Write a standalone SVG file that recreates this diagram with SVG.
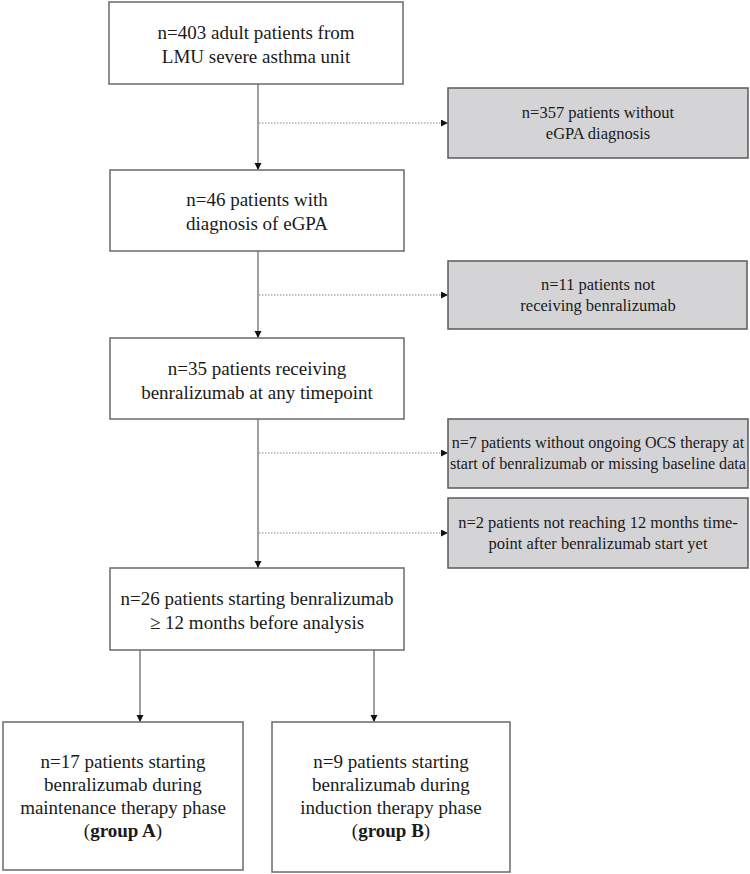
<svg xmlns="http://www.w3.org/2000/svg" width="750" height="874" viewBox="0 0 750 874">
<defs>
<style>
.box{fill:#ffffff;stroke:#6a6a6a;stroke-width:1.5}
.gbox{fill:#d4d4d6;stroke:#5a5a5a;stroke-width:1.5}
.t{font-family:"Liberation Serif","Times New Roman",serif;font-size:19px;fill:#1a1a1a;text-anchor:middle}
.g{font-family:"Liberation Serif","Times New Roman",serif;font-size:16.5px;fill:#1a1a1a;text-anchor:middle}
.gs{font-size:16.1px}
.b{font-weight:bold}
.solid{stroke:#777777;stroke-width:1.4;fill:none}
.dot{stroke:#888888;stroke-width:1;stroke-dasharray:1.5 1.5;fill:none}
</style>
<marker id="ah" viewBox="0 0 10 10" refX="10" refY="5" markerWidth="7" markerHeight="8" markerUnits="userSpaceOnUse" orient="auto">
<path d="M0,0 L10,5 L0,10 z" fill="#111111"/>
</marker>
<marker id="ahs" viewBox="0 0 10 10" refX="10" refY="5" markerWidth="9" markerHeight="7" markerUnits="userSpaceOnUse" orient="auto">
<path d="M0,0 L10,5 L0,10 z" fill="#111111"/>
</marker>
</defs>

<g id="connectors">
<line class="solid" x1="258" y1="84" x2="258" y2="170" marker-end="url(#ah)"/>
<line class="solid" x1="258" y1="251" x2="258" y2="338" marker-end="url(#ah)"/>
<line class="solid" x1="258" y1="419" x2="258" y2="568" marker-end="url(#ah)"/>
<line class="dot" x1="259" y1="123" x2="448" y2="123" marker-end="url(#ahs)"/>
<line class="dot" x1="259" y1="295" x2="448" y2="295" marker-end="url(#ahs)"/>
<line class="dot" x1="259" y1="453" x2="448" y2="453" marker-end="url(#ahs)"/>
<line class="dot" x1="259" y1="533" x2="448" y2="533" marker-end="url(#ahs)"/>
<line class="solid" x1="140" y1="650" x2="140" y2="722" marker-end="url(#ah)"/>
<line class="solid" x1="374" y1="650" x2="374" y2="722" marker-end="url(#ah)"/>
</g>

<g id="n403">
<rect class="box" x="109" y="2" width="294" height="82"/>
<text class="t" x="256" y="39">n=403 adult patients from</text>
<text class="t" x="256" y="63">LMU severe asthma unit</text>
</g>

<g id="n357">
<rect class="gbox" x="448" y="88" width="300" height="70"/>
<text class="g" x="598" y="118">n=357 patients without</text>
<text class="g" x="598" y="139">eGPA diagnosis</text>
</g>

<g id="n46">
<rect class="box" x="110" y="170" width="294" height="81"/>
<text class="t" x="257" y="206">n=46 patients with</text>
<text class="t" x="257" y="230">diagnosis of eGPA</text>
</g>

<g id="n11">
<rect class="gbox" x="448" y="261" width="299" height="68"/>
<text class="g" x="598" y="290">n=11 patients not</text>
<text class="g" x="598" y="311">receiving benralizumab</text>
</g>

<g id="n35">
<rect class="box" x="110" y="338" width="294" height="81"/>
<text class="t" x="257" y="375">n=35 patients receiving</text>
<text class="t" x="257" y="399">benralizumab at any timepoint</text>
</g>

<g id="n7">
<rect class="gbox" x="448" y="419" width="300" height="69"/>
<text class="g gs" x="598" y="448">n=7 patients without ongoing OCS therapy at</text>
<text class="g gs" x="598" y="469">start of benralizumab or missing baseline data</text>
</g>

<g id="n2">
<rect class="gbox" x="448" y="498" width="300" height="70"/>
<text class="g" x="598" y="528">n=2 patients not reaching 12 months time-</text>
<text class="g" x="598" y="549">point after benralizumab start yet</text>
</g>

<g id="n26">
<rect class="box" x="110" y="568" width="294" height="82"/>
<text class="t" x="257" y="605">n=26 patients starting benralizumab</text>
<text class="t" x="257" y="629">≥ 12 months before analysis</text>
</g>

<g id="groupA">
<rect class="box" x="3" y="722" width="240" height="148"/>
<text class="t" x="123" y="768">n=17 patients starting</text>
<text class="t" x="123" y="791">benralizumab during</text>
<text class="t" x="123" y="814">maintenance therapy phase</text>
<text class="t" x="123" y="837">(<tspan class="b">group A</tspan>)</text>
</g>

<g id="groupB">
<rect class="box" x="272" y="722" width="238" height="150"/>
<text class="t" x="391" y="768">n=9 patients starting</text>
<text class="t" x="391" y="791">benralizumab during</text>
<text class="t" x="391" y="814">induction therapy phase</text>
<text class="t" x="391" y="837">(<tspan class="b">group B</tspan>)</text>
</g>
</svg>
